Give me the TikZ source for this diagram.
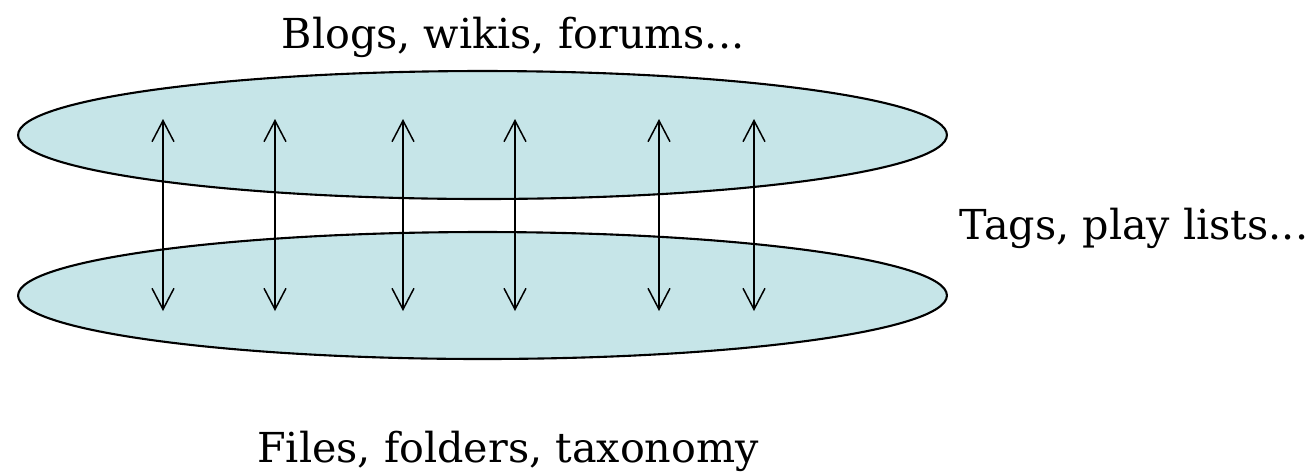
\documentclass[tikz,border=0pt]{standalone}
\usepackage{fontspec}
\setmainfont{DejaVu Serif}
\usetikzlibrary{shapes.geometric, arrows.meta}
\definecolor{layerfill}{RGB}{198,229,232}

\begin{document}
\begin{tikzpicture}[x=0.02cm, y=-0.02cm,
    layer/.style={ellipse, draw=black, line width=1.2pt, fill=layerfill, inner sep=0pt, minimum width=18.58cm},
    link/.style={black, line width=0.85pt, {Straight Barb[length=12pt, width=12.5pt]}-{Straight Barb[length=12pt, width=12.5pt]}},
    label/.style={font=\fontsize{23.5}{28}\selectfont, inner sep=0pt, anchor=base}]

    \useasboundingbox (0,0) rectangle (1310,471);

    % Two layers
    \node[layer, minimum height=2.56cm] (upper) at (482.5,135) {};
    \node[layer, minimum height=2.54cm] (lower) at (482.5,295.5) {};

    % End points of the links
    \coordinate (u1) at (163,119);  \coordinate (l1) at (163,311);
    \coordinate (u2) at (275,119);  \coordinate (l2) at (275,311);
    \coordinate (u3) at (403,119);  \coordinate (l3) at (403,311);
    \coordinate (u4) at (515,119);  \coordinate (l4) at (515,311);
    \coordinate (u5) at (659,119);  \coordinate (l5) at (659,311);
    \coordinate (u6) at (754,119);  \coordinate (l6) at (754,311);

    % Links between the layers
    \draw[link] (u1) -- (l1);
    \draw[link] (u2) -- (l2);
    \draw[link] (u3) -- (l3);
    \draw[link] (u4) -- (l4);
    \draw[link] (u5) -- (l5);
    \draw[link] (u6) -- (l6);

    \node[label] (top) at (513,48) {Blogs, wikis, forums...};
    \node[label] (side) at (1134,239) {Tags, play lists...};
    \node[label] (base) at (508,462) {Files, folders, taxonomy};

\end{tikzpicture}
\end{document}
